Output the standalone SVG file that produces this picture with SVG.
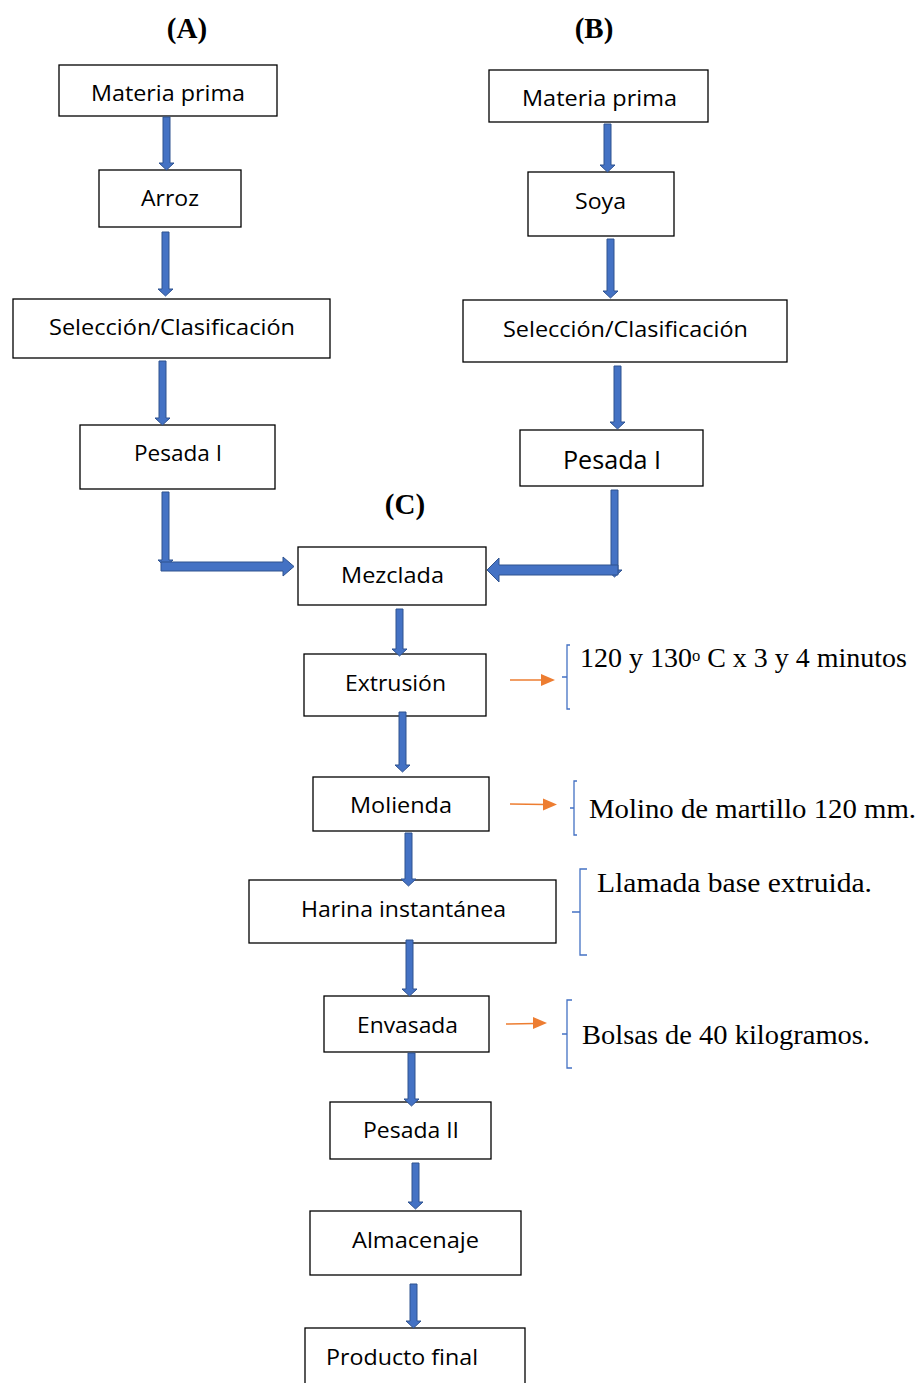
<svg xmlns="http://www.w3.org/2000/svg" width="923" height="1383" viewBox="0 0 923 1383">
  <style>
    .box { fill: #ffffff; stroke: #000000; stroke-width: 1.3; }
    .lbl { font-family: "Open Sans", "Noto Sans", sans-serif; font-size: 22px; fill: #000000; text-anchor: start; }
    .ttl { font-family: "Liberation Serif", serif; font-size: 29px; font-weight: bold; fill: #000000; text-anchor: middle; }
    .note { font-family: "Liberation Serif", "DejaVu Serif", serif; font-size: 27px; fill: #000000; }
    .blk { fill: #4472C4; stroke: #2F528F; stroke-width: 1; }
    .brace { fill: none; stroke: #4472C4; stroke-width: 1.3; }
    .ora { stroke: #ED7D31; stroke-width: 1.6; fill: none; }
    .orah { fill: #ED7D31; }
  </style>

  <!-- section titles -->
  <text class="ttl" x="187" y="38">(A)</text>
  <text class="ttl" x="594" y="38">(B)</text>
  <text class="ttl" x="405" y="514">(C)</text>

  <!-- column A -->
  <g id="a-materia"><rect class="box" x="59" y="65" width="218" height="51"/><text class="lbl" x="91" y="101" textLength="154" lengthAdjust="spacingAndGlyphs">Materia prima</text></g>
  <g id="a-arroz"><rect class="box" x="99" y="170" width="142" height="57"/><text class="lbl" x="141" y="206" textLength="58" lengthAdjust="spacingAndGlyphs">Arroz</text></g>
  <g id="a-seleccion"><rect class="box" x="13" y="299" width="317" height="59"/><text class="lbl" x="49" y="335" textLength="246" lengthAdjust="spacingAndGlyphs">Selección/Clasificación</text></g>
  <g id="a-pesada"><rect class="box" x="80" y="425" width="195" height="64"/><text class="lbl" x="134" y="461" textLength="88" lengthAdjust="spacingAndGlyphs">Pesada I</text></g>

  <!-- column B -->
  <g id="b-materia"><rect class="box" x="489" y="70" width="219" height="52"/><text class="lbl" x="522" y="106" textLength="155" lengthAdjust="spacingAndGlyphs">Materia prima</text></g>
  <g id="b-soya"><rect class="box" x="528" y="172" width="146" height="64"/><text class="lbl" x="575" y="209" textLength="51" lengthAdjust="spacingAndGlyphs">Soya</text></g>
  <g id="b-seleccion"><rect class="box" x="463" y="300" width="324" height="62"/><text class="lbl" x="503" y="337" textLength="245" lengthAdjust="spacingAndGlyphs">Selección/Clasificación</text></g>
  <g id="b-pesada"><rect class="box" x="520" y="430" width="183" height="56"/><text class="lbl" x="563" y="469" style="font-size:25px" textLength="98" lengthAdjust="spacingAndGlyphs">Pesada I</text></g>

  <!-- column C -->
  <g id="c-mezclada"><rect class="box" x="298" y="547" width="188" height="58"/><text class="lbl" x="341" y="583" textLength="103" lengthAdjust="spacingAndGlyphs">Mezclada</text></g>
  <g id="c-extrusion"><rect class="box" x="304" y="654" width="182" height="62"/><text class="lbl" x="345" y="691" textLength="101" lengthAdjust="spacingAndGlyphs">Extrusión</text></g>
  <g id="c-molienda"><rect class="box" x="313" y="777" width="176" height="54"/><text class="lbl" x="350" y="813" textLength="102" lengthAdjust="spacingAndGlyphs">Molienda</text></g>
  <g id="c-harina"><rect class="box" x="249" y="880" width="307" height="63"/><text class="lbl" x="301" y="917" textLength="205" lengthAdjust="spacingAndGlyphs">Harina instantánea</text></g>
  <g id="c-envasada"><rect class="box" x="324" y="996" width="165" height="56"/><text class="lbl" x="357" y="1033" textLength="101" lengthAdjust="spacingAndGlyphs">Envasada</text></g>
  <g id="c-pesada2"><rect class="box" x="330" y="1102" width="161" height="57"/><text class="lbl" x="363" y="1138" textLength="96" lengthAdjust="spacingAndGlyphs">Pesada II</text></g>
  <g id="c-almacenaje"><rect class="box" x="310" y="1211" width="211" height="64"/><text class="lbl" x="352" y="1248" textLength="127" lengthAdjust="spacingAndGlyphs">Almacenaje</text></g>
  <g id="c-producto"><rect class="box" x="305" y="1328" width="220" height="60"/><text class="lbl" x="326" y="1365" textLength="152" lengthAdjust="spacingAndGlyphs">Producto final</text></g>

  <!-- block arrows -->
  <g id="connectors">
    <!-- A column: down arrows (shaft 7 wide, head 15 wide x 7 tall) -->
    <path class="blk" d="M163,117 H170 V163 H174 L166.5,170 L159,163 H163 Z"/>
    <path class="blk" d="M162,232 H169 V289 H173 L165.5,296 L158,289 H162 Z"/>
    <path class="blk" d="M159,361 H166 V418 H170 L162.5,425 L155,418 H159 Z"/>
    <path class="blk" d="M162,492 H169 V560 H173 L165.5,567 L158,560 H162 Z"/>
    <!-- A into Mezclada -->
    <path class="blk" d="M161,562 H283 V557 L294,566.5 L283,576 V571 H161 Z"/>

    <!-- B column -->
    <path class="blk" d="M604,124 H611 V165 H615 L607.5,172 L600,165 H604 Z"/>
    <path class="blk" d="M607,239 H614 V291 H618 L610.5,298 L603,291 H607 Z"/>
    <path class="blk" d="M614,366 H621 V422 H625 L617.5,429 L610,422 H614 Z"/>
    <path class="blk" d="M611,490 H618 V570 H622 L614.5,577 L607,570 H611 Z"/>
    <!-- B into Mezclada -->
    <path class="blk" d="M618,565 H499 V558 L487,570 L499,582 V575 H618 Z"/>

    <!-- C column -->
    <path class="blk" d="M396,609 H403 V649 H407 L399.5,656 L392,649 H396 Z"/>
    <path class="blk" d="M399,712 H406 V765 H410 L402.5,772 L395,765 H399 Z"/>
    <path class="blk" d="M405,833 H412 V879 H416 L408.5,886 L401,879 H405 Z"/>
    <path class="blk" d="M406,940 H413 V989 H417 L409.5,996 L402,989 H406 Z"/>
    <path class="blk" d="M408,1053 H415 V1099 H419 L411.5,1106 L404,1099 H408 Z"/>
    <path class="blk" d="M412,1163 H419 V1202 H423 L415.5,1209 L408,1202 H412 Z"/>
    <path class="blk" d="M410,1284 H417 V1321 H421 L413.5,1328 L406,1321 H410 Z"/>

    <!-- orange pointers to notes -->
    <line class="ora" x1="510" y1="680" x2="543" y2="680"/>
    <path class="orah" d="M541,674 L555,680 L541,686 Z"/>
    <line class="ora" x1="510" y1="804" x2="545" y2="804.5"/>
    <path class="orah" d="M543,798.5 L557,804.5 L543,810.5 Z"/>
    <line class="ora" x1="506" y1="1024" x2="535" y2="1023.5"/>
    <path class="orah" d="M533,1017 L547,1023 L533,1029 Z"/>
  </g>

  <!-- notes with brackets -->
  <g id="note-extrusion">
    <path class="brace" d="M570,645 H567 V709 H570 M567,677 H562"/>
    <text class="note" x="580" y="667" textLength="327" lengthAdjust="spacingAndGlyphs">120 y 130<tspan font-size="16" dy="-6">o</tspan><tspan dy="6"> C x 3 y 4 minutos</tspan></text>
  </g>
  <g id="note-molienda">
    <path class="brace" d="M577,781 H574 V835 H577 M574,808 H570"/>
    <text class="note" x="589" y="818" textLength="327" lengthAdjust="spacingAndGlyphs">Molino de martillo 120 mm.</text>
  </g>
  <g id="note-harina">
    <path class="brace" d="M587,869 H580 V955 H587 M580,912 H572"/>
    <text class="note" x="597" y="892" textLength="275" lengthAdjust="spacingAndGlyphs">Llamada base extruida.</text>
  </g>
  <g id="note-envasada">
    <path class="brace" d="M572,1000 H567 V1068 H572 M567,1034 H562"/>
    <text class="note" x="582" y="1044" textLength="288" lengthAdjust="spacingAndGlyphs">Bolsas de 40 kilogramos.</text>
  </g>
</svg>
